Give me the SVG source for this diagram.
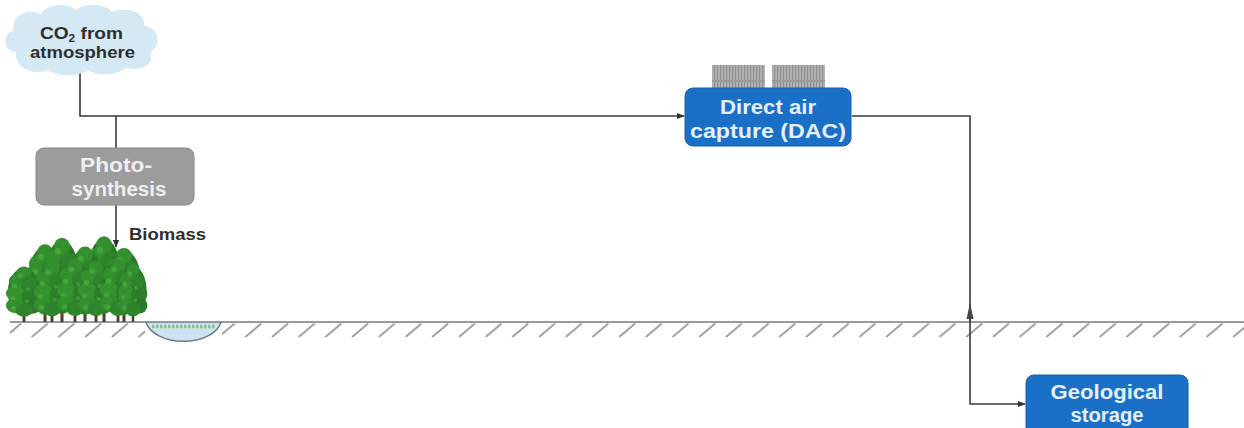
<svg xmlns="http://www.w3.org/2000/svg" width="1244" height="428" viewBox="0 0 1244 428">
  <defs>
    <style>
      .lbl { font-family: "Liberation Sans", Arial, sans-serif; font-weight: bold; }
      .dark { fill: #2e2e2e; }
      .boxtxt { fill: #e4f0ff; }
      .graytxt { fill: #efefef; }
      .conn { fill: none; stroke: #3a3a3a; stroke-width: 1.6; }
      .ground { fill: none; stroke: #7a7a7a; stroke-width: 1.5; }
      .bluebox { fill: #1a6fc6; stroke: #155fae; stroke-width: 1; }
    </style>
    <marker id="arrow" viewBox="0 0 10 10" refX="9" refY="5" markerWidth="8" markerHeight="8" orient="auto" markerUnits="userSpaceOnUse">
      <path d="M0,1 L10,5 L0,9 Z" fill="#333"/>
    </marker>
    <marker id="arrowLong" viewBox="0 0 16 8" refX="15" refY="4" markerWidth="16" markerHeight="8" orient="auto" markerUnits="userSpaceOnUse">
      <path d="M0,0.5 L16,4 L0,7.5 Z" fill="#444"/>
    </marker>
    <pattern id="hatch" x="0" y="322" width="26.7" height="16" patternUnits="userSpaceOnUse">
      <line x1="5" y1="15" x2="21" y2="1.5" stroke="#9a9a9a" stroke-width="1.7"/>
    </pattern>
    <pattern id="fan" x="0" y="0" width="3" height="22" patternUnits="userSpaceOnUse">
      <rect width="3" height="22" fill="#b4b4b4"/>
      <rect width="1.2" height="22" fill="#8e8e8e"/>
    </pattern>
    <!-- one tree: base of trunk at origin -->
    <g id="tree">
      <rect x="-1.5" y="-9" width="3" height="9" fill="#4e3b2a"/>
      <ellipse cx="0" cy="-40" rx="17" ry="32" fill="#2a7a28"/>
      <circle cx="0" cy="-66" r="8" fill="#34902f"/>
      <circle cx="-7" cy="-55" r="9" fill="#33902f"/>
      <circle cx="6" cy="-52" r="9" fill="#2e852b"/>
      <circle cx="-9" cy="-38" r="10" fill="#35932f"/>
      <circle cx="8" cy="-36" r="10" fill="#2b7f28"/>
      <circle cx="-9" cy="-22" r="10" fill="#33902f"/>
      <circle cx="8" cy="-21" r="10" fill="#2a7a27"/>
      <circle cx="0" cy="-16" r="9" fill="#2e852b"/>
      <circle cx="-4" cy="-62" r="3" fill="#45a53e"/>
      <circle cx="-10" cy="-48" r="3" fill="#45a53e"/>
      <circle cx="-12" cy="-32" r="3" fill="#43a23c"/>
      <circle cx="-11" cy="-18" r="3" fill="#43a23c"/>
      <circle cx="4" cy="-44" r="2.5" fill="#3d9a37"/>
      <circle cx="3" cy="-28" r="2.5" fill="#3d9a37"/>
    </g>
  </defs>

  <rect width="1244" height="428" fill="#ffffff"/>

  <!-- ground surface and hatching -->
  <g id="ground">
    <rect x="10" y="322" width="135" height="16" fill="url(#hatch)"/>
    <rect x="222" y="322" width="1022" height="16" fill="url(#hatch)"/>
    <path class="ground" d="M10,322 H146 M221,322 H1244"/>
  </g>

  <!-- pond -->
  <g id="pond">
    <path d="M146,322 A38,23 0 0 0 221,322 Z" fill="#cfe2f2" stroke="#6f7b88" stroke-width="1.5"/>
    <path d="M152,326.5 H215" stroke="#78b86a" stroke-width="3.5" stroke-dasharray="2.5 1.5" opacity="0.85"/>
  </g>

  <!-- biomass: stand of trees -->
  <g id="trees">
    <use href="#tree" transform="translate(45,322) scale(1,1.05)"/>
    <use href="#tree" transform="translate(62,322) scale(1,1.14)"/>
    <use href="#tree" transform="translate(104,322) scale(1,1.16)"/>
    <use href="#tree" transform="translate(85,322) scale(1,1.02)"/>
    <use href="#tree" transform="translate(124,322) scale(1,1.0)"/>
    <use href="#tree" transform="translate(24,322) scale(0.95,0.75)"/>
    <use href="#tree" transform="translate(52,322) scale(0.95,0.8)"/>
    <use href="#tree" transform="translate(75,322) scale(0.95,0.85)"/>
    <use href="#tree" transform="translate(96,322) scale(0.95,0.82)"/>
    <use href="#tree" transform="translate(118,322) scale(0.95,0.85)"/>
    <use href="#tree" transform="translate(133,322) scale(0.8,0.78)"/>
  </g>

  <!-- connectors -->
  <g id="connectors">
    <path class="conn" d="M80,70 V116 H684" marker-end="url(#arrow)"/>
    <path class="conn" d="M116,116 V148"/>
    <path class="conn" d="M116,205 V247" marker-end="url(#arrow)"/>
    <path class="conn" d="M852,116 H970 V404 H1025" marker-end="url(#arrow)"/>
    <path class="conn" d="M970,322 V304" marker-end="url(#arrowLong)"/>
  </g>

  <!-- CO2 source cloud -->
  <g id="co2-cloud">
    <path d="M16,52 C2,50 2,34 14,30 C10,16 28,8 40,14 C48,4 66,2 76,10 C86,2 106,4 112,12 C126,6 146,12 144,26 C160,28 162,46 150,52 C156,64 140,72 126,68 C116,76 96,76 88,70 C76,78 56,76 48,70 C34,76 14,68 16,52 Z" fill="#d5e9f5"/>
    <text class="lbl dark" x="40" y="39" font-size="16" textLength="83" lengthAdjust="spacingAndGlyphs">CO<tspan font-size="10" dy="3">2</tspan><tspan dy="-3"> from</tspan></text>
    <text class="lbl dark" x="30" y="58" font-size="16" textLength="105" lengthAdjust="spacingAndGlyphs">atmosphere</text>
  </g>

  <!-- photosynthesis -->
  <g id="photosynthesis">
    <rect x="36" y="148" width="158" height="57" rx="8" fill="#9c9c9c" stroke="#8a8a8a"/>
    <text class="lbl graytxt" x="116" y="172" font-size="20" text-anchor="middle" textLength="72" lengthAdjust="spacingAndGlyphs">Photo-</text>
    <text class="lbl graytxt" x="119" y="196" font-size="20" text-anchor="middle" textLength="95" lengthAdjust="spacingAndGlyphs">synthesis</text>
  </g>

  <!-- biomass label -->
  <g id="biomass">
    <text class="lbl dark" x="129" y="240" font-size="16" textLength="77" lengthAdjust="spacingAndGlyphs">Biomass</text>
  </g>

  <!-- direct air capture -->
  <g id="dac">
    <rect x="712" y="65" width="53" height="23" fill="url(#fan)"/>
    <rect x="772" y="65" width="53" height="23" fill="url(#fan)"/>
    <rect x="712" y="80" width="53" height="2" fill="#9a9a9a"/>
    <rect x="772" y="80" width="53" height="2" fill="#9a9a9a"/>
    <rect class="bluebox" x="685" y="88" width="166" height="58" rx="8"/>
    <text class="lbl boxtxt" x="768" y="114" font-size="21" text-anchor="middle" textLength="96" lengthAdjust="spacingAndGlyphs">Direct air</text>
    <text class="lbl boxtxt" x="768" y="138" font-size="21" text-anchor="middle" textLength="156" lengthAdjust="spacingAndGlyphs">capture (DAC)</text>
  </g>

  <!-- geological storage -->
  <g id="geological-storage">
    <rect class="bluebox" x="1026" y="375" width="162" height="62" rx="8"/>
    <text class="lbl boxtxt" x="1107" y="399" font-size="20" text-anchor="middle" textLength="113" lengthAdjust="spacingAndGlyphs">Geological</text>
    <text class="lbl boxtxt" x="1107" y="422" font-size="20" text-anchor="middle" textLength="73" lengthAdjust="spacingAndGlyphs">storage</text>
  </g>
</svg>
